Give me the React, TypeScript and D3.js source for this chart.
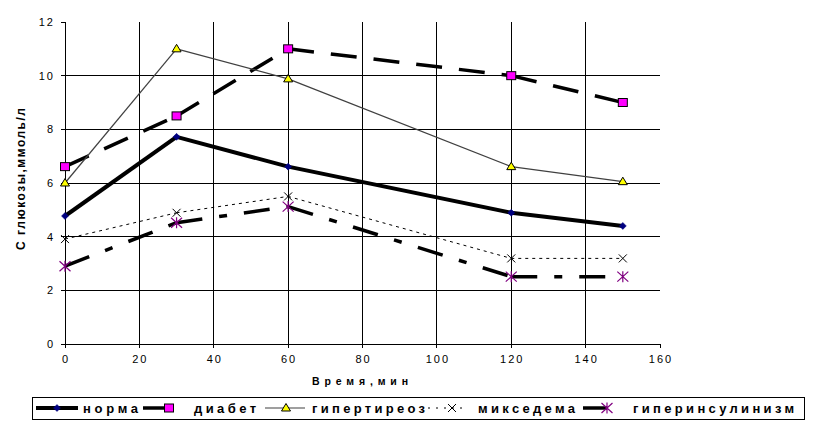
import React from "react";
import * as d3 from "d3";

// ---- data ----
const times = [0, 30, 60, 120, 150];
const seriesNames = ["норма", "диабет", "гипертиреоз", "микседема", "гиперинсулинизм"];
const norma = [4.77, 7.72, 6.61, 4.89, 4.4];
const diabet = [6.61, 8.5, 11.0, 10.0, 9.0];
const hyperthyreosis = [6.0, 11.0, 9.88, 6.61, 6.05];
const myxedema = [3.91, 4.89, 5.5, 3.19, 3.19];
const hyperinsulinism = [2.9, 4.52, 5.12, 2.51, 2.51];
const xTicks = [0, 20, 40, 60, 80, 100, 120, 140, 160];
const yTicks = [0, 2, 4, 6, 8, 10, 12];
const xTitle = "Время,мин";
const yTitle = "С глюкозы,ммоль/л";

// ---- styles (layout) ----
const seriesValues = [norma, diabet, hyperthyreosis, myxedema, hyperinsulinism];
const styles = [
  { stroke: "#000", width: 4, dash: "", marker: "diamond" },
  { stroke: "#000", width: 3.5, dash: "26,17", marker: "square" },
  { stroke: "#404040", width: 1.2, dash: "", marker: "triangle" },
  { stroke: "#000", width: 1, dash: "3,4", marker: "x" },
  { stroke: "#000", width: 3.5, dash: "26,17,8,17", marker: "star" },
];
const legendLayout = [
  { x1: 36, x2: 78, mx: 57, tx: 83, tw: 55 },
  { x1: 143, x2: 169, mx: 169, tx: 194, tw: 62 },
  { x1: 265, x2: 305, mx: 286, tx: 312, tw: 113 },
  { x1: 428, x2: 468, mx: 452, tx: 478, tw: 97 },
  { x1: 583, x2: 607, mx: 607, tx: 633, tw: 161 },
];

const FONT = "'Liberation Sans', Arial, sans-serif";

function Marker({ kind, x, y }: { kind: string; x: number; y: number }) {
  switch (kind) {
    case "diamond":
      return (
        <path
          d={`M${x},${y - 3.5}L${x + 3.5},${y}L${x},${y + 3.5}L${x - 3.5},${y}Z`}
          fill="#000080"
          stroke="#000080"
          strokeWidth={0.5}
        />
      );
    case "square":
      return <rect x={x - 4.5} y={y - 4} width={9} height={8} fill="#FF00FF" stroke="#000" strokeWidth={1} />;
    case "triangle":
      return (
        <path
          d={`M${x},${y - 4.5}L${x + 4.5},${y + 3}L${x - 4.5},${y + 3}Z`}
          fill="#FFFF00"
          stroke="#000"
          strokeWidth={1}
        />
      );
    case "x":
      return (
        <path
          d={`M${x - 4},${y - 4}L${x + 4},${y + 4}M${x - 4},${y + 4}L${x + 4},${y - 4}`}
          stroke="#000"
          strokeWidth={1}
          fill="none"
        />
      );
    case "star":
      return (
        <path
          d={`M${x - 5.5},${y - 5}L${x + 5.5},${y + 5}M${x - 5.5},${y + 5}L${x + 5.5},${y - 5}M${x},${y - 5.5}L${x},${y + 5.5}`}
          stroke="#800080"
          strokeWidth={1.2}
          fill="none"
        />
      );
    default:
      return null;
  }
}

export default function App() {
  const W = 814;
  const H = 428;
  const x = d3.scaleLinear().domain([0, 160]).range([65, 660]);
  const y = d3.scaleLinear().domain([0, 12]).range([344, 22]);
  const line = d3
    .line<[number, number]>()
    .x((d) => x(d[0]))
    .y((d) => y(d[1]));

  return (
    <svg
      width={W}
      height={H}
      style={{ position: "absolute", left: 0, top: 0, background: "#fff" }}
      fontFamily={FONT}
    >
      <rect x={0} y={0} width={W} height={H} fill="#fff" />
      {/* gridlines */}
      {yTicks
        .filter((t) => t > 0 && t < 12)
        .map((t) => (
          <line key={"gy" + t} x1={x(0)} x2={x(160)} y1={y(t)} y2={y(t)} stroke="#000" strokeWidth={1} shapeRendering="crispEdges" />
        ))}
      {xTicks
        .filter((t) => t > 0 && t < 160)
        .map((t) => (
          <line key={"gx" + t} x1={x(t)} x2={x(t)} y1={y(0)} y2={y(12)} stroke="#000" strokeWidth={1} shapeRendering="crispEdges" />
        ))}
      {/* axes */}
      <line x1={x(0)} x2={x(0)} y1={y(0)} y2={y(12)} stroke="#000" strokeWidth={1} shapeRendering="crispEdges" />
      <line x1={x(0)} x2={x(160)} y1={y(0)} y2={y(0)} stroke="#000" strokeWidth={1} shapeRendering="crispEdges" />
      {yTicks.map((t) => (
        <g key={"ty" + t}>
          <line x1={x(0) - 4} x2={x(0)} y1={y(t)} y2={y(t)} stroke="#000" shapeRendering="crispEdges" />
          <text x={55} y={y(t) + 4} textAnchor="end" fontSize={11} letterSpacing={2} fill="#000">
            {t}
          </text>
        </g>
      ))}
      {xTicks.map((t) => (
        <g key={"tx" + t}>
          <line x1={x(t)} x2={x(t)} y1={y(0)} y2={y(0) + 4} stroke="#000" shapeRendering="crispEdges" />
          <text x={x(t) + 1} y={363} textAnchor="middle" fontSize={11} letterSpacing={2} fill="#000">
            {t}
          </text>
        </g>
      ))}
      {/* axis titles */}
      <text x={312} y={385} fontSize={10.5} fontWeight="bold" textLength={96} lengthAdjust="spacing" fill="#000">
        {xTitle}
      </text>
      <text
        transform="translate(25,250) rotate(-90)"
        x={0}
        y={0}
        fontSize={12}
        fontWeight="bold"
        textLength={142}
        lengthAdjust="spacing"
        fill="#000"
      >
        {yTitle}
      </text>
      {/* series */}
      {seriesValues.map((vals, si) => {
        const st = styles[si];
        const pts: [number, number][] = times.map((t, i) => [t, vals[i]]);
        return (
          <g key={"s" + si}>
            {pts.slice(1).map((p, i) => (
              <path
                key={i}
                d={line([pts[i], p]) || ""}
                fill="none"
                stroke={st.stroke}
                strokeWidth={st.width}
                strokeDasharray={st.dash || undefined}
              />
            ))}
            {pts.map((p, i) => (
              <Marker key={"m" + i} kind={st.marker} x={x(p[0])} y={y(p[1])} />
            ))}
          </g>
        );
      })}
      {/* legend */}
      <rect x={32.5} y={397.5} width={772} height={22} fill="#fff" stroke="#000" strokeWidth={1} />
      {seriesNames.map((name, i) => {
        const st = styles[i];
        const L = legendLayout[i];
        const ly = 408;
        return (
          <g key={"lg" + i}>
            <line
              x1={L.x1}
              x2={L.x2}
              y1={ly}
              y2={ly}
              stroke={st.stroke}
              strokeWidth={st.width}
              strokeDasharray={st.marker === "x" ? "2,6" : undefined}
            />
            <Marker kind={st.marker} x={L.mx} y={ly} />
            <text x={L.tx} y={413} fontSize={13} fontWeight="bold" textLength={L.tw} lengthAdjust="spacing" fill="#000">
              {name}
            </text>
          </g>
        );
      })}
    </svg>
  );
}
